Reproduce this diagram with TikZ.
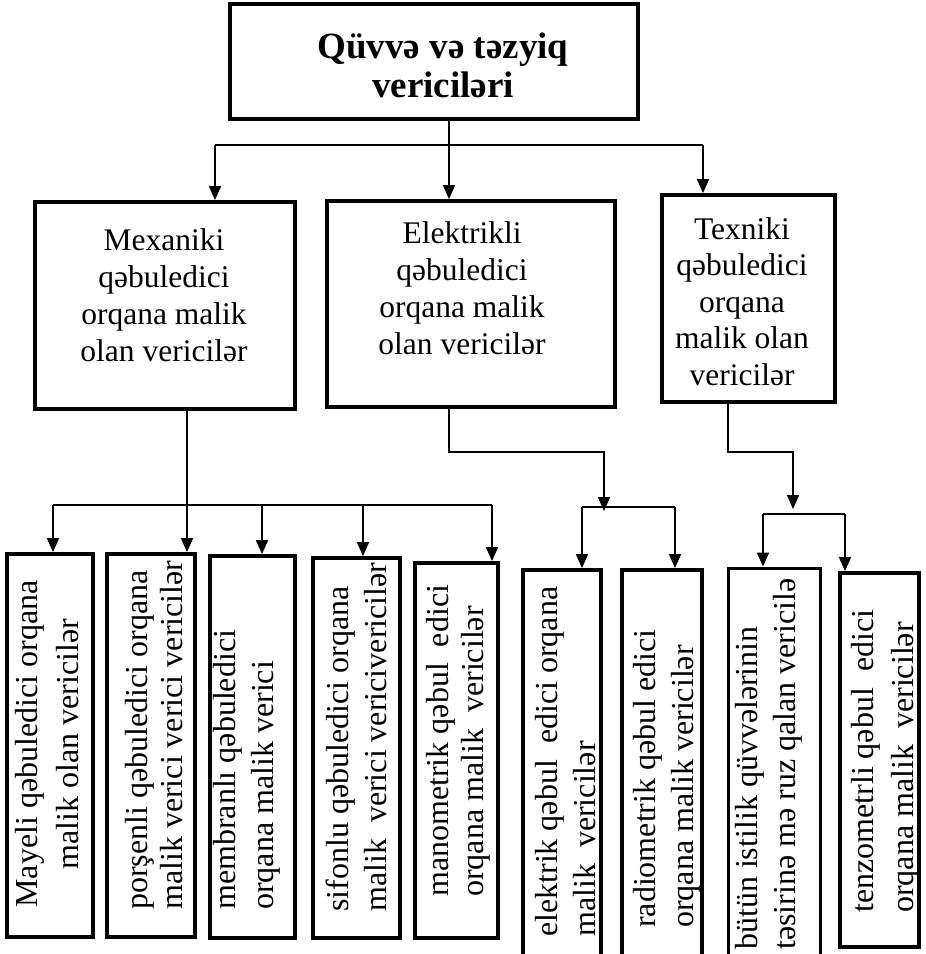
\documentclass[tikz,border=0pt]{standalone}
\usepackage{fontspec}
\setmainfont{Liberation Serif}
\usetikzlibrary{arrows.meta}

\tikzset{
  box/.style={draw, line width=3.8pt, inner sep=0pt, fill=none},
  conn/.style={line width=1.6pt},
  arr/.style={conn, -{Triangle[length=14pt,width=12pt]}},
  toptxt/.style={inner sep=0pt, align=center, anchor=base,
    font=\bfseries\fontsize{37}{39}\selectfont},
  midtxt/.style={inner sep=0pt, align=center, anchor=base,
    font=\fontsize{31.5}{37}\selectfont},
  vtxt/.style={inner sep=0pt, rotate=90, align=left, anchor=base west,
    font=\fontsize{32}{#1}\selectfont},
  vtxt/.default=38
}

\begin{document}
\begin{tikzpicture}[x=1pt, y=-1pt]
\useasboundingbox (0,0) rectangle (926,954);
\fill[white] (0,0) rectangle (926,954);
\clip (0,0) rectangle (926,954);

% ---- boxes ----
\node[box, minimum width=408, minimum height=115] (top) at (434,61.5) {};
\node[box, minimum width=260, minimum height=207] (mech) at (165,305.5) {};
\node[box, minimum width=288, minimum height=206] (elec) at (471,304) {};
\node[box, minimum width=173, minimum height=207] (tech) at (748.5,298.5) {};

\node[box, minimum width=86, minimum height=383] (mayeli) at (50,745.5) {};
\node[box, minimum width=88, minimum height=383] (porsh) at (151,745.5) {};
\node[box, minimum width=85, minimum height=382] (memb) at (252.5,747) {};
\node[box, minimum width=87, minimum height=380] (sif) at (356.5,748) {};
\node[box, minimum width=83, minimum height=375] (mano) at (456.5,750.5) {};
\node[box, minimum width=78, minimum height=392] (elek) at (562,766) {};
\node[box, minimum width=80, minimum height=392] (radio) at (662,766) {};
\node[box, minimum width=92, minimum height=394, line width=3pt] (butun) at (774,765) {};
\node[box, minimum width=79, minimum height=374] (tenz) at (879.5,760) {};

% ---- texts (anchored at the baseline of the last line) ----
\node[toptxt] (topT) at (443,97) {Qüvvə və təzyiq\\vericiləri};
\node[midtxt] (mechT) at (164,361) {Mexaniki\\qəbuledici\\orqana malik\\olan vericilər};
\node[midtxt] (elecT) at (462,354) {Elektrikli\\qəbuledici\\orqana malik\\olan vericilər};
\node[midtxt, font=\fontsize{31.5}{36.5}\selectfont] (techT) at (742,385)
  {Texniki\\qəbuledici\\orqana\\malik olan\\vericilər};

\node[vtxt=41, align=center, anchor=base] (mayeliT) at (78,744)
  {Mayeli qəbuledici orqana\\malik olan vericilər};
\node[vtxt=35] (porshT) at (182,910)
  {porşenli qəbuledici orqana\\malik verici verici vericilər};
\node[vtxt=38] (membT) at (273,910)
  {membranlı qəbuledici\\orqana malik verici};
\node[vtxt=38] (sifT) at (386,912)
  {sifonlu qəbuledici orqana\\malik\ \ verici vericivericilər};
\node[vtxt=35] (manoT) at (483,897)
  {manometrik qəbul\ \ edici\\orqana malik\ \ vericilər};
\node[vtxt=38] (elekT) at (595,937)
  {elektrik qəbul\ \ edici orqana\\malik\ \ vericilər};
\node[vtxt=38] (radioT) at (693,928)
  {radiometrik qəbul edici\\orqana malik vericilər};
\node[vtxt=38] (butunT) at (795,950)
  {bütün istilik qüvvələrinin\\təsirinə mə ruz qalan vericilə};
\node[vtxt=40] (tenzT) at (913,913)
  {tenzometrli qəbul\ \ edici\\orqana malik\ \ vericilər};

% ---- first level connectors ----
\coordinate (tj) at (449,145);
\coordinate (tL) at (215,145);
\coordinate (tR) at (703,145);
\draw[conn] (tj |- top.south) -- (tj);
\draw[conn] (tL) -- (tR);
\draw[arr] (tL) -- (tL |- mech.north);
\draw[arr] (tj) -- (tj |- elec.north);
\draw[arr] (tR) -- (tR |- tech.north);

% ---- mechanical branch ----
\coordinate (mj) at (187,505);
\coordinate (mL) at (53,505);
\coordinate (mR) at (492,505);
\coordinate (m3) at (262,505);
\coordinate (m4) at (363,505);
\draw[conn] (mj |- mech.south) -- (mj);
\draw[conn] (mL) -- (mR);
\draw[arr] (mL) -- (mL |- mayeli.north);
\draw[arr] (mj) -- (mj |- porsh.north);
\draw[arr] (m3) -- (m3 |- memb.north);
\draw[arr] (m4) -- (m4 |- sif.north);
\draw[arr] (mR) -- (mR |- mano.north);

% ---- electrical branch ----
\coordinate (ej) at (449,452);
\coordinate (ek) at (604,452);
\coordinate (eTip) at (604,511);
\coordinate (eL) at (582,507);
\coordinate (eR) at (675,507);
\draw[arr] (ej |- elec.south) -- (ej) -- (ek) -- (eTip);
\draw[conn] (eL) -- (eR);
\draw[arr] (eL) -- (eL |- elek.north);
\draw[arr] (eR) -- (eR |- radio.north);

% ---- technical branch ----
\coordinate (xj) at (728,452);
\coordinate (xk) at (793,452);
\coordinate (xTip) at (793,509);
\coordinate (xL) at (763,514);
\coordinate (xR) at (845,514);
\draw[arr] (xj |- tech.south) -- (xj) -- (xk) -- (xTip);
\draw[conn] (xL) -- (xR);
\draw[arr] (xL) -- (xL |- butun.north);
\draw[arr] (xR) -- (xR |- tenz.north);
\end{tikzpicture}
\end{document}
